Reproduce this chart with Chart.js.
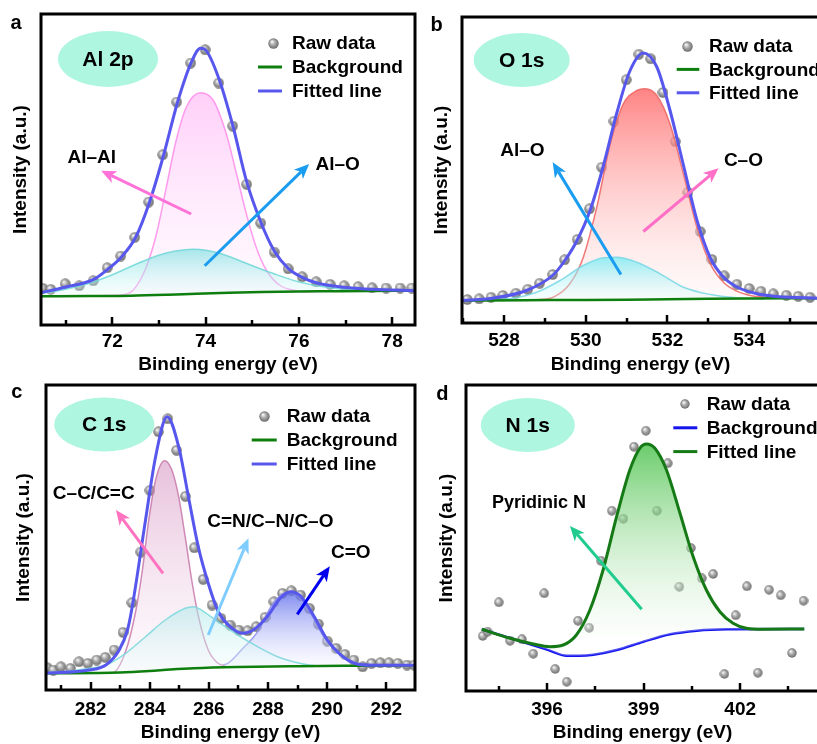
<!DOCTYPE html>
<html>
<head>
<meta charset="utf-8">
<script src="https://cdn.jsdelivr.net/npm/chart.js@4.4.1/dist/chart.umd.min.js"></script>
<style>
  html, body { margin: 0; padding: 0; background: #fff; overflow: hidden; }
  #wrap { position: relative; width: 817px; height: 744px; overflow: hidden; background: #fff; }
  canvas { position: absolute; }
</style>
</head>
<body>
<div id="wrap">
  <canvas id="pa" width="420" height="376" style="left:0px;top:0px"></canvas>
  <canvas id="pb" width="415" height="376" style="left:410px;top:0px"></canvas>
  <canvas id="pc" width="420" height="374" style="left:0px;top:370px"></canvas>
  <canvas id="pd" width="415" height="374" style="left:410px;top:370px"></canvas>
</div>
<script>
// ---------- Al 2p ----------
const alRawX = [70.51,70.68,70.99,71.29,71.59,71.89,72.18,72.48,72.78,73.08,73.38,73.68,73.99,74.28,74.58,74.88,75.18,75.47,75.77,76.07,76.37,76.67,76.97,77.27,77.57,77.87,78.17,78.42];
const alRawY = [36.7,35.7,41.3,39.3,44.3,57.3,69,87.7,123,170.3,223,262,275.3,242,199,140.7,102,73,56.3,48.3,43.3,40.7,39.3,38.3,37.3,37,37,37];
const alFitX = [70.47,71.0,71.6,71.9,72.2,72.5,72.8,73.1,73.4,73.7,73.89,74.0,74.28,74.58,74.88,75.18,75.47,75.77,76.07,76.37,76.97,77.57,78.49];
const alFitY = [32.3,38,45.7,55.7,68.3,87.7,123.3,170,223,263.3,276.7,275,247,200,143.3,103.3,74.3,56.7,47.7,42.3,37.7,35.7,34.3];
const alBgX = [70.47,71.5,72.4,73.2,73.8,74.5,75.2,76.0,76.6,77.5,78.49];
const alBgY = [28.7,29,29.3,30.3,31.3,32.3,33,33.5,33.7,34,34.3];
const alMetalX = [71.8,72.16,72.45,72.73,72.95,73.16,73.37,73.59,73.89,74.16,74.44,74.66,74.87,75.08,75.3,75.58,75.87,76.15,76.5];
const alMetalY = [29.5,30,35,58.3,91.7,138.3,185,218.3,232.3,225,191.7,151.7,111.7,78.3,55,40,35,33.3,33.5];
const alOxideX = [70.47,71.02,71.59,72.09,72.59,73.16,73.76,74.3,74.87,75.44,76.01,76.72,77.43,78.47];
const alOxideY = [31.5,36,43,52,62.5,72,75.7,71.7,61.7,51.7,43,37,35,34.3];
const alTicks = [72,74,76,78];
const alMinor = [71,73,75,77];

// ---------- O 1s ----------
const oRawX = [527.10,527.39,527.68,527.97,528.29,528.58,528.87,529.19,529.48,529.79,530.09,530.39,530.69,530.99,531.30,531.59,531.89,532.19,532.50,532.80,533.09,533.39,533.70,534.00,534.29,534.59,534.91,535.20,535.49];
const oRawY = [23.5,24.2,25.8,27.5,29.8,33.8,39.8,48.5,63.2,83.5,114.2,155.8,201.8,243.2,268.8,264.2,230.5,181.5,130.8,91.5,63.5,47.2,38.8,34.5,31.8,29.2,27.8,26.8,25.8];
const oFitX = [526.97,527.72,528.55,529.2,529.48,529.78,530.11,530.43,530.76,531.08,531.41,531.74,532.06,532.39,532.72,533.05,533.37,533.7,534.19,534.68,535.71];
const oFitY = [22.5,24.8,32.5,48,62,82,113,157,210,252,270,256,213,158,103,65,46,36,29.2,26.5,24.7];
const oBgX = [526.97,528.5,530,531,532,533,534,535.71];
const oBgY = [22.5,22.8,23,23.3,23.8,24.2,24.5,24.7];
const oCOX = [528.8,529.2,529.61,529.94,530.27,530.6,530.92,531.25,531.45,531.74,532.06,532.39,532.72,533.05,533.37,533.7,534.03,534.51];
const oCOY = [23.2,25.8,39.2,65.8,115.8,179.2,219.2,232.5,234.2,227.5,199.2,149.2,95.8,59.2,40.8,31.8,27.5,25.2];
const oAlOX = [527.5,528.2,528.8,529.37,529.94,530.43,530.76,531.25,531.82,532.39,533.05,533.7,534.35];
const oAlOY = [23.2,24.8,30.8,42.5,57.5,65.2,65.8,60.8,49.2,35.8,28.5,25.2,23.8];
const oTicks = [528,530,532,534];
const oMinor = [527,529,531,533,535];

// ---------- C 1s ----------
const cRawX = [280.54,280.74,281.0,281.32,281.61,281.91,282.21,282.5,282.8,283.1,283.40,283.70,284.01,284.30,284.61,284.91,285.21,285.51,285.81,286.11,286.41,286.72,287.01,287.31,287.60,287.90,288.20,288.49,288.79,289.10,289.40,289.70,290.00,290.30,290.60,290.90,291.20,291.50,291.80,292.09,292.39,292.70,292.95];
const cRawY = [22.3,20,23.3,21.7,28.3,26.7,30,32.7,40,57.7,87.3,138,199.7,258.3,271.3,239.7,193.7,142.3,110.7,85,71.7,65,60,59.3,63.3,72.7,88.3,96.7,99.3,95,81.7,66,49,41.7,35.7,30,23.3,26.7,27.3,27.3,26.7,25,25];
const cFitX = [280.49,281.97,282.52,282.97,283.25,283.41,283.86,284.2,284.59,284.98,285.31,285.65,285.98,286.31,286.76,287.15,287.54,287.99,288.43,288.77,289.10,289.55,289.99,290.44,291.0,291.56,292.97];
const cFitY = [16.7,20,25,40,60,83.3,170,233.3,273.3,243.3,193.3,142.3,106.7,79,62.3,56.7,60.7,74,92.3,98.3,94,74,50.7,35.7,26,24.8,24.7];
const cBgX = [280.49,283,284,284.7,285.5,287,289,291,292.97];
const cBgY = [16.7,17.5,19,20.5,21.8,23,23.8,24.3,24.7];
const cCCX = [282.3,282.75,283.19,283.53,283.75,283.97,284.2,284.5,284.75,284.98,285.2,285.42,285.65,285.98,286.31,286.54];
const cCCY = [17,17.3,39,79,119,170,210,229.3,220,193.3,153.3,110,73.3,40,26.7,24];
const cCNX = [280.54,281.41,281.97,282.52,283.19,283.86,284.53,285.2,285.48,285.65,286.31,286.98,287.65,288.32,288.99,289.55,290.3];
const cCNY = [17.3,19.3,21.7,25,36.7,53.3,70,81.7,83.3,81.7,68.3,55,43.3,33.3,27.3,24.5,24];
const cCOX = [286.48,286.65,287.1,287.65,288.1,288.43,288.8,289.44,289.88,290.33,290.77,291.22,291.89];
const cCOY = [25,26.7,40,58.3,83.3,95,98,76.7,53.3,38.3,30,25,24.3];
const cTicks = [282,284,286,288,290,292];
const cMinor = [281,283,285,287,289,291];

// ---------- N 1s ----------
const nRawX = [394.00,394.15,394.50,394.85,395.22,395.57,395.91,396.25,396.61,396.96,397.31,397.67,398.01,398.37,398.70,399.07,399.41,399.75,400.11,400.47,400.81,401.16,401.51,401.86,402.21,402.55,402.90,403.26,403.61,403.97];
const nRawY = [55,59.3,88.7,50.3,51.7,37.3,97.7,22,9.3,70.3,63.3,130.3,180.3,172.3,244.3,260.3,180.3,227.7,104.3,143,112.7,117,17,75.7,104.7,18.3,101.3,95.7,38,90.3];
const nFitX = [393.97,394.85,395.57,396.09,396.5,396.91,397.33,397.74,398.16,398.57,398.88,399.09,399.35,399.71,400.13,400.54,400.95,401.37,401.78,402.19,402.71,403.99];
const nFitY = [61.7,52.7,47,44.3,46,56,81,121,174.3,221,242.7,247,242.7,221,177.7,134.3,101,79.3,67.7,62.7,61.7,62];
const nBgX = [393.97,395.0,396.0,396.61,397.0,397.44,398.16,398.99,399.82,400.65,401.58,403.99];
const nBgY = [61.7,51.4,41.4,35.3,35.3,36.3,41,49.3,56.7,60.3,61.7,62];
const nTicks = [396,399,402];
const nMinor = [394.5,397.5,400.5,403.5];

// ---------- helpers ----------
const FONT = "'Liberation Sans', Arial, Helvetica, sans-serif";
const zip = (xs, ys) => xs.map((x, i) => ({ x, y: ys[i] }));

function sphere(d) {
  const c = document.createElement('canvas');
  c.width = c.height = d;
  const g = c.getContext('2d');
  const r = d / 2;
  const grad = g.createRadialGradient(r * 0.72, r * 0.66, r * 0.08, r, r, r);
  grad.addColorStop(0, '#f4f4f4');
  grad.addColorStop(0.45, '#a9a9a9');
  grad.addColorStop(1, '#676767');
  g.fillStyle = grad;
  g.beginPath();
  g.arc(r, r, r - 0.3, 0, Math.PI * 2);
  g.fill();
  return c;
}
const ball = sphere(11);
const ballSmall = sphere(10);

// vertical gradient spanning a dataset's own peak down to its base
function fillGrad(top, bottom) {
  return (c) => {
    const chart = c.chart;
    if (!chart.chartArea) return top;
    const ys = chart.data.datasets[c.datasetIndex].data.map(p => p.y);
    const sy = chart.scales.y;
    const y0 = sy.getPixelForValue(Math.max(...ys));
    const y1 = sy.getPixelForValue(Math.min(...ys));
    const g = chart.ctx.createLinearGradient(0, y0, 0, y1);
    g.addColorStop(0, top);
    g.addColorStop(1, bottom);
    return g;
  };
}

const curve = (data, color, width, extra) => Object.assign({
  type: 'line', data, borderColor: color, borderWidth: width,
  pointRadius: 0, cubicInterpolationMode: 'monotone', fill: false
}, extra || {});
const rawSet = (data, img) => ({
  type: 'line', data, showLine: false, pointStyle: img, pointRadius: 5,
  borderWidth: 0, backgroundColor: '#999'
});

function arrow(ctx, x1, y1, x2, y2, color) {
  const ang = Math.atan2(y2 - y1, x2 - x1);
  const L = 15, W = 6.5, notch = 4;
  ctx.strokeStyle = color;
  ctx.fillStyle = color;
  ctx.lineWidth = 3;
  ctx.lineCap = 'butt';
  ctx.beginPath();
  ctx.moveTo(x1, y1);
  ctx.lineTo(x2 - (L - notch) * Math.cos(ang), y2 - (L - notch) * Math.sin(ang));
  ctx.stroke();
  ctx.save();
  ctx.translate(x2, y2);
  ctx.rotate(ang);
  ctx.beginPath();
  ctx.moveTo(0, 0);
  ctx.lineTo(-L, -W);
  ctx.lineTo(-L + notch, 0);
  ctx.lineTo(-L, W);
  ctx.closePath();
  ctx.fill();
  ctx.restore();
}

function decoPlugin(o) {
  return {
    id: 'deco',
    afterDatasetsDraw(chart) {
      const { ctx, chartArea: a, scales: { x, y } } = chart;
      ctx.save();
      // frame
      ctx.strokeStyle = '#000';
      ctx.lineWidth = 3;
      ctx.strokeRect(a.left, a.top, a.right - a.left, a.bottom - a.top);
      // inward ticks on the energy axis
      ctx.lineWidth = 2.5;
      const tick = (v, len) => {
        const px = Math.round(x.getPixelForValue(v));
        ctx.beginPath();
        ctx.moveTo(px, a.bottom);
        ctx.lineTo(px, a.bottom - len);
        ctx.stroke();
      };
      o.major.forEach(v => tick(v, 8));
      o.minor.forEach(v => tick(v, 5));
      // assignment arrows
      o.arrows.forEach(ar => arrow(ctx,
        x.getPixelForValue(ar.from[0]), y.getPixelForValue(ar.from[1]),
        x.getPixelForValue(ar.to[0]), y.getPixelForValue(ar.to[1]), ar.color));
      // assignment labels
      ctx.fillStyle = '#000';
      ctx.textAlign = 'center';
      ctx.textBaseline = 'middle';
      o.labels.forEach(l => {
        ctx.font = `bold ${l.size || 19}px ${FONT}`;
        ctx.fillText(l.text, x.getPixelForValue(l.at[0]), y.getPixelForValue(l.at[1]));
      });
      // core-level badge
      const b = o.badge;
      ctx.fillStyle = '#aef6df';
      ctx.beginPath();
      ctx.ellipse(a.left + b.dx, a.top + b.dy, b.rx, b.ry, 0, 0, Math.PI * 2);
      ctx.fill();
      ctx.fillStyle = '#000';
      ctx.font = `bold 21px ${FONT}`;
      ctx.fillText(b.text, a.left + b.dx, a.top + b.dy + 1);
      // legend
      const L = o.legend;
      ctx.font = `bold 19px ${FONT}`;
      L.items.forEach((it, i) => {
        const yy = a.top + L.dy + i * L.gap;
        if (it.kind === 'dot') {
          ctx.drawImage(o.img, Math.round(a.left + L.mx - o.img.width / 2), Math.round(yy - o.img.height / 2));
        } else {
          ctx.strokeStyle = it.color;
          ctx.lineWidth = 3;
          ctx.beginPath();
          ctx.moveTo(a.left + L.l0, yy);
          ctx.lineTo(a.left + L.l1, yy);
          ctx.stroke();
        }
        ctx.fillStyle = '#000';
        ctx.textAlign = 'left';
        ctx.fillText(it.text, a.left + L.tx, yy + 1);
      });
      // panel letter
      ctx.textAlign = 'center';
      ctx.font = `bold 20px ${FONT}`;
      ctx.fillText(o.letter, o.letterAt[0], o.letterAt[1]);
      ctx.restore();
    }
  };
}

function axes(xmin, xmax, ymax, majors, g) {
  const f = { family: FONT, size: 19, weight: 'bold' };
  return {
    x: {
      type: 'linear', min: xmin, max: xmax,
      afterBuildTicks: s => { s.ticks = majors.map(v => ({ value: v })); },
      afterFit: s => { s.height = g.xh; },
      grid: { display: false, drawTicks: false }, border: { display: false },
      ticks: { color: '#000', font: f, padding: g.tp, maxRotation: 0, autoSkip: false },
      title: { display: true, text: 'Binding energy (eV)', color: '#000', font: f, padding: { top: 0, bottom: g.xtp } }
    },
    y: {
      type: 'linear', min: 0, max: ymax,
      afterFit: s => { s.width = g.yw; },
      grid: { display: false, drawTicks: false }, border: { display: false },
      ticks: { display: false },
      title: { display: true, text: 'Intensity (a.u.)', color: '#000', font: f, padding: { top: g.ytp, bottom: 0 } }
    }
  };
}

function makeChart(id, datasets, sc, pad, deco) {
  return new Chart(document.getElementById(id), {
    type: 'line',
    data: { datasets },
    options: {
      responsive: false, animation: false, devicePixelRatio: 1,
      layout: { padding: pad },
      plugins: { legend: { display: false }, tooltip: { enabled: false } },
      scales: sc
    },
    plugins: [decoPlugin(deco)]
  });
}

const FIT = '#5757ee', BG = '#0e7f0e';
const legendABC = [
  { kind: 'dot', text: 'Raw data' },
  { kind: 'line', color: BG, text: 'Background' },
  { kind: 'line', color: FIT, text: 'Fitted line' }
];

// ---------- panel a: Al 2p ----------
makeChart('pa', [
  curve(zip(alFitX, alFitY), FIT, 3),
  curve(zip(alBgX, alBgY), BG, 2.5),
  curve(zip(alOxideX, alOxideY), 'rgba(110,215,215,0.85)', 1.5,
    { fill: { target: 1 }, backgroundColor: fillGrad('rgba(110,222,222,0.6)', 'rgba(225,250,250,0.3)') }),
  curve(zip(alMetalX, alMetalY), 'rgba(255,140,235,0.85)', 1.5,
    { fill: { target: 1 }, backgroundColor: fillGrad('rgba(255,175,245,0.6)', 'rgba(255,235,252,0.25)') }),
  rawSet(zip(alRawX, alRawY), ball)
], axes(70.47, 78.49, 311, alTicks, { xh: 51, yw: 41, tp: 5, xtp: 0, ytp: 9.6 }),
{ top: 14, right: 4, left: 0, bottom: 0 },
{
  major: alTicks, minor: alMinor, img: ball, letter: 'a', letterAt: [16, 23],
  arrows: [
    { from: [73.69, 111], to: [71.76, 154.3], color: '#ff72d8' },
    { from: [73.98, 59.3], to: [76.22, 161], color: '#1a9cf0' }
  ],
  labels: [
    { text: 'Al\u2013Al', at: [71.56, 167.7] },
    { text: 'Al\u2013O', at: [76.83, 160.7] }
  ],
  badge: { text: 'Al 2p', dx: 67, dy: 45, rx: 50, ry: 28 },
  legend: { dy: 29, gap: 24, mx: 232, l0: 217, l1: 241, tx: 251, items: legendABC }
});

// ---------- panel b: O 1s ----------
makeChart('pb', [
  curve(zip(oFitX, oFitY), FIT, 3),
  curve(zip(oBgX, oBgY), BG, 2.5),
  curve(zip(oAlOX, oAlOY), 'rgba(120,215,228,0.85)', 1.5,
    { fill: { target: 1 }, backgroundColor: fillGrad('rgba(100,235,245,0.7)', 'rgba(235,252,252,0.3)') }),
  curve(zip(oCOX, oCOY), 'rgba(238,105,105,0.9)', 1.5,
    { fill: { target: 1 }, backgroundColor: fillGrad('rgba(255,110,110,0.85)', 'rgba(255,240,240,0.3)') }),
  rawSet(zip(oRawX, oRawY), ball)
], axes(526.97, 535.71, 306, oTicks, { xh: 53, yw: 52, tp: 6.3, xtp: 0, ytp: 20.3 }),
{ top: 17, right: 6, left: 0, bottom: 0 },
{
  major: oTicks, minor: oMinor, img: ball, letter: 'b', letterAt: [26.7, 25],
  arrows: [
    { from: [530.86, 48.5], to: [529.19, 160.8], color: '#1a9cf0' },
    { from: [531.41, 91.5], to: [533.25, 154.8], color: '#ff6ec7' }
  ],
  labels: [
    { text: 'Al\u2013O', at: [528.45, 171.8] },
    { text: 'C\u2013O', at: [533.86, 162.5] }
  ],
  badge: { text: 'O 1s', dx: 59.7, dy: 43, rx: 48, ry: 27 },
  legend: { dy: 29, gap: 23.4, mx: 225.7, l0: 214.7, l1: 237.3, tx: 247, items: legendABC }
});

// ---------- panel c: C 1s ----------
makeChart('pc', [
  curve(zip(cFitX, cFitY), FIT, 3),
  curve(zip(cBgX, cBgY), BG, 2.5),
  curve(zip(cCNX, cCNY), 'rgba(120,215,220,0.85)', 1.5,
    { fill: { target: 1 }, backgroundColor: fillGrad('rgba(170,232,232,0.55)', 'rgba(240,252,252,0.3)') }),
  curve(zip(cCCX, cCCY), 'rgba(200,120,170,0.85)', 1.5,
    { fill: { target: 1 }, backgroundColor: fillGrad('rgba(215,150,195,0.6)', 'rgba(250,240,248,0.3)') }),
  curve(zip(cCOX, cCOY), 'rgba(140,140,240,0.85)', 1.5,
    { fill: { target: 1 }, backgroundColor: fillGrad('rgba(95,110,235,0.8)', 'rgba(240,240,255,0.3)') }),
  rawSet(zip(cRawX, cRawY), ball)
], axes(280.495, 292.97, 305, cTicks, { xh: 54, yw: 46, tp: 7.9, xtp: 0, ytp: 12.6 }),
{ top: 15, right: 1, left: 0, bottom: 0 },
{
  major: cTicks, minor: cMinor, img: ball, letter: 'c', letterAt: [16.7, 22.7],
  arrows: [
    { from: [284.45, 116.7], to: [282.86, 180], color: '#ff72c0' },
    { from: [285.98, 55], to: [287.34, 151.7], color: '#7fcdff' },
    { from: [288.99, 75.7], to: [290.09, 123.7], color: '#0000ee' }
  ],
  labels: [
    { text: 'C\u2013C/C=C', at: [282.11, 196.7] },
    { text: 'C=N/C\u2013N/C\u2013O', at: [288.08, 168.3] },
    { text: 'C=O', at: [290.80, 137.3] }
  ],
  badge: { text: 'C 1s', dx: 58.3, dy: 39.5, rx: 50, ry: 27 },
  legend: { dy: 31, gap: 24, mx: 218, l0: 205.7, l1: 230.7, tx: 240.7, items: legendABC }
});

// ---------- panel d: N 1s ----------
makeChart('pd', [
  curve(zip(nFitX, nFitY), '#157a15', 3,
    { fill: { target: 1 }, backgroundColor: fillGrad('rgba(80,195,80,0.85)', 'rgba(255,255,255,0.25)') }),
  curve(zip(nBgX, nBgY), '#1414ee', 2.5),
  rawSet(zip(nRawX, nRawY), ballSmall)
], axes(393.48, 404.45, 306, nTicks, { xh: 53, yw: 56, tp: 6.9, xtp: 0, ytp: 25.6 }),
{ top: 15, right: 6, left: 0, bottom: 0 },
{
  major: nTicks, minor: nMinor, img: ballSmall, letter: 'd', letterAt: [32.3, 24],
  arrows: [
    { from: [398.94, 81.7], to: [396.71, 165], color: '#22cc8f' }
  ],
  labels: [
    { text: 'Pyridinic N', at: [395.75, 187.7], size: 18 }
  ],
  badge: { text: 'N 1s', dx: 61.8, dy: 40, rx: 47, ry: 27 },
  legend: {
    dy: 19, gap: 23.8, mx: 219.3, l0: 207.3, l1: 231.3, tx: 240.7, items: [
      { kind: 'dot', text: 'Raw data' },
      { kind: 'line', color: '#1414ee', text: 'Background' },
      { kind: 'line', color: '#157a15', text: 'Fitted line' }
    ]
  }
});
</script>
</body>
</html>
